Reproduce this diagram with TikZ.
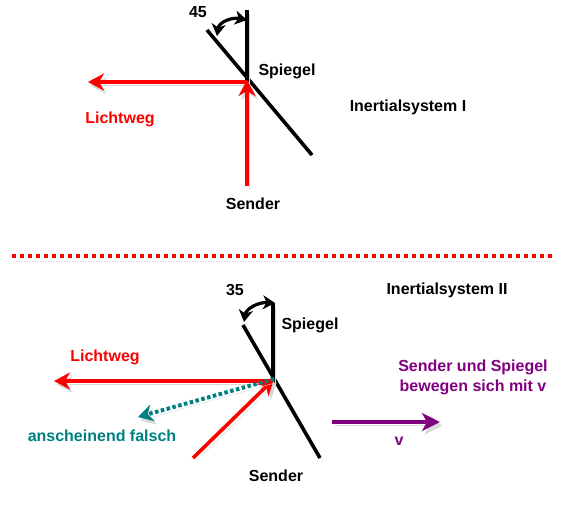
\documentclass[tikz,border=0pt]{standalone}
\usepackage{fontspec}
\setmainfont{Liberation Sans}
\usetikzlibrary{arrows.meta}
\definecolor{teal2}{RGB}{0,128,128}
\definecolor{purp}{RGB}{128,0,128}
\tikzset{
  lbl/.style={font=\fontsize{16}{19}\selectfont\bfseries, inner sep=0pt, align=center},
  shad/.style={preaction={draw=black!15, transform canvas={xshift=2.5pt, yshift=-3.5pt}}},
  mirror/.style={line width=3.6pt, black, shad},
  ray/.style={line width=3.6pt, red, shad, -{Stealth[length=16pt,width=17pt,inset=5pt]}},
  angarr/.style={line width=3.2pt, black, {Stealth[length=12pt,width=14pt,inset=3.5pt]}-{Stealth[length=12pt,width=14pt,inset=3.5pt]}},
  divider/.style={line width=4pt, red, dash pattern=on 4pt off 4pt},
  wrong/.style={line width=4pt, teal2, dash pattern=on 3.5pt off 2.5pt, shad, -{Stealth[length=15pt,width=17pt,inset=5pt]}},
  motion/.style={line width=4pt, purp, shad, -{Stealth[length=18pt,width=18pt,inset=5pt]}}
}
\begin{document}
\begin{tikzpicture}[x=1pt,y=-1pt]
\useasboundingbox (0,0) rectangle (563,507);
% ---------- Inertialsystem I ----------
\coordinate (m1t) at (207,30);
\coordinate (m1b) at (312,155);
\coordinate (v1t) at (247,10);
\coordinate (hit1) at (247,82);
\coordinate (l1end) at (88,82);
\coordinate (s1) at (247,186);
\coordinate (a1s) at (217,36);
\coordinate (a1e) at (247,20);
\draw[mirror] (m1t) -- (m1b);
\draw[mirror] (v1t) -- (hit1);
\draw[ray] (hit1) -- (l1end);
\draw[ray] (s1) -- ([yshift=2pt]hit1);
\draw[angarr] (a1s) .. controls (219,22) and (232,17) .. (a1e);
\node[lbl] (n45) at (198,12) {45};
\node[lbl] (sp1) at (287,71) {Spiegel};
\node[lbl, red] (lw1) at (120,119) {Lichtweg};
\node[lbl] (se1) at (253,204) {Sender};
\node[lbl] (is1) at (408,107) {Inertialsystem I};
% ---------- divider ----------
\coordinate (d1) at (12,256);
\coordinate (d2) at (553,256);
\draw[divider, preaction={draw=black!10, transform canvas={xshift=2pt, yshift=-5pt}}] (d1) -- (d2);
% ---------- Inertialsystem II ----------
\coordinate (m2t) at (243,325);
\coordinate (m2b) at (320,458);
\coordinate (v2t) at (273,303);
\coordinate (hit2) at (273,381);
\coordinate (l2end) at (54,381);
\coordinate (s2) at (193,458);
\coordinate (f2end) at (138,417);
\coordinate (a2s) at (244,322);
\coordinate (a2e) at (275,303);
\draw[mirror] (m2t) -- (m2b);
\draw[mirror] (v2t) -- (hit2);
\draw[ray] (hit2) -- (l2end);
\draw[ray] (s2) -- ([shift={(1pt,2pt)}]hit2);
\draw[wrong] ([shift={(1pt,2pt)}]hit2) -- (f2end);
\draw[angarr] (a2s) .. controls (246,309) and (258,302) .. (a2e);
\node[lbl] (n35) at (235,290) {35};
\node[lbl] (sp2) at (310,325) {Spiegel};
\node[lbl, red] (lw2) at (105,357) {Lichtweg};
\node[lbl, teal2] (fa2) at (102,436) {anscheinend falsch};
\node[lbl] (se2) at (276,476) {Sender};
\node[lbl] (is2) at (447,290) {Inertialsystem II};
\node[lbl, purp] (mv) at (473,377) {Sender und Spiegel\\[1pt]bewegen sich mit v};
\coordinate (p1) at (332,422);
\coordinate (p2) at (440,422);
\draw[motion] (p1) -- (p2);
\node[lbl, purp] (vv) at (399,441) {v};
\end{tikzpicture}
\end{document}
